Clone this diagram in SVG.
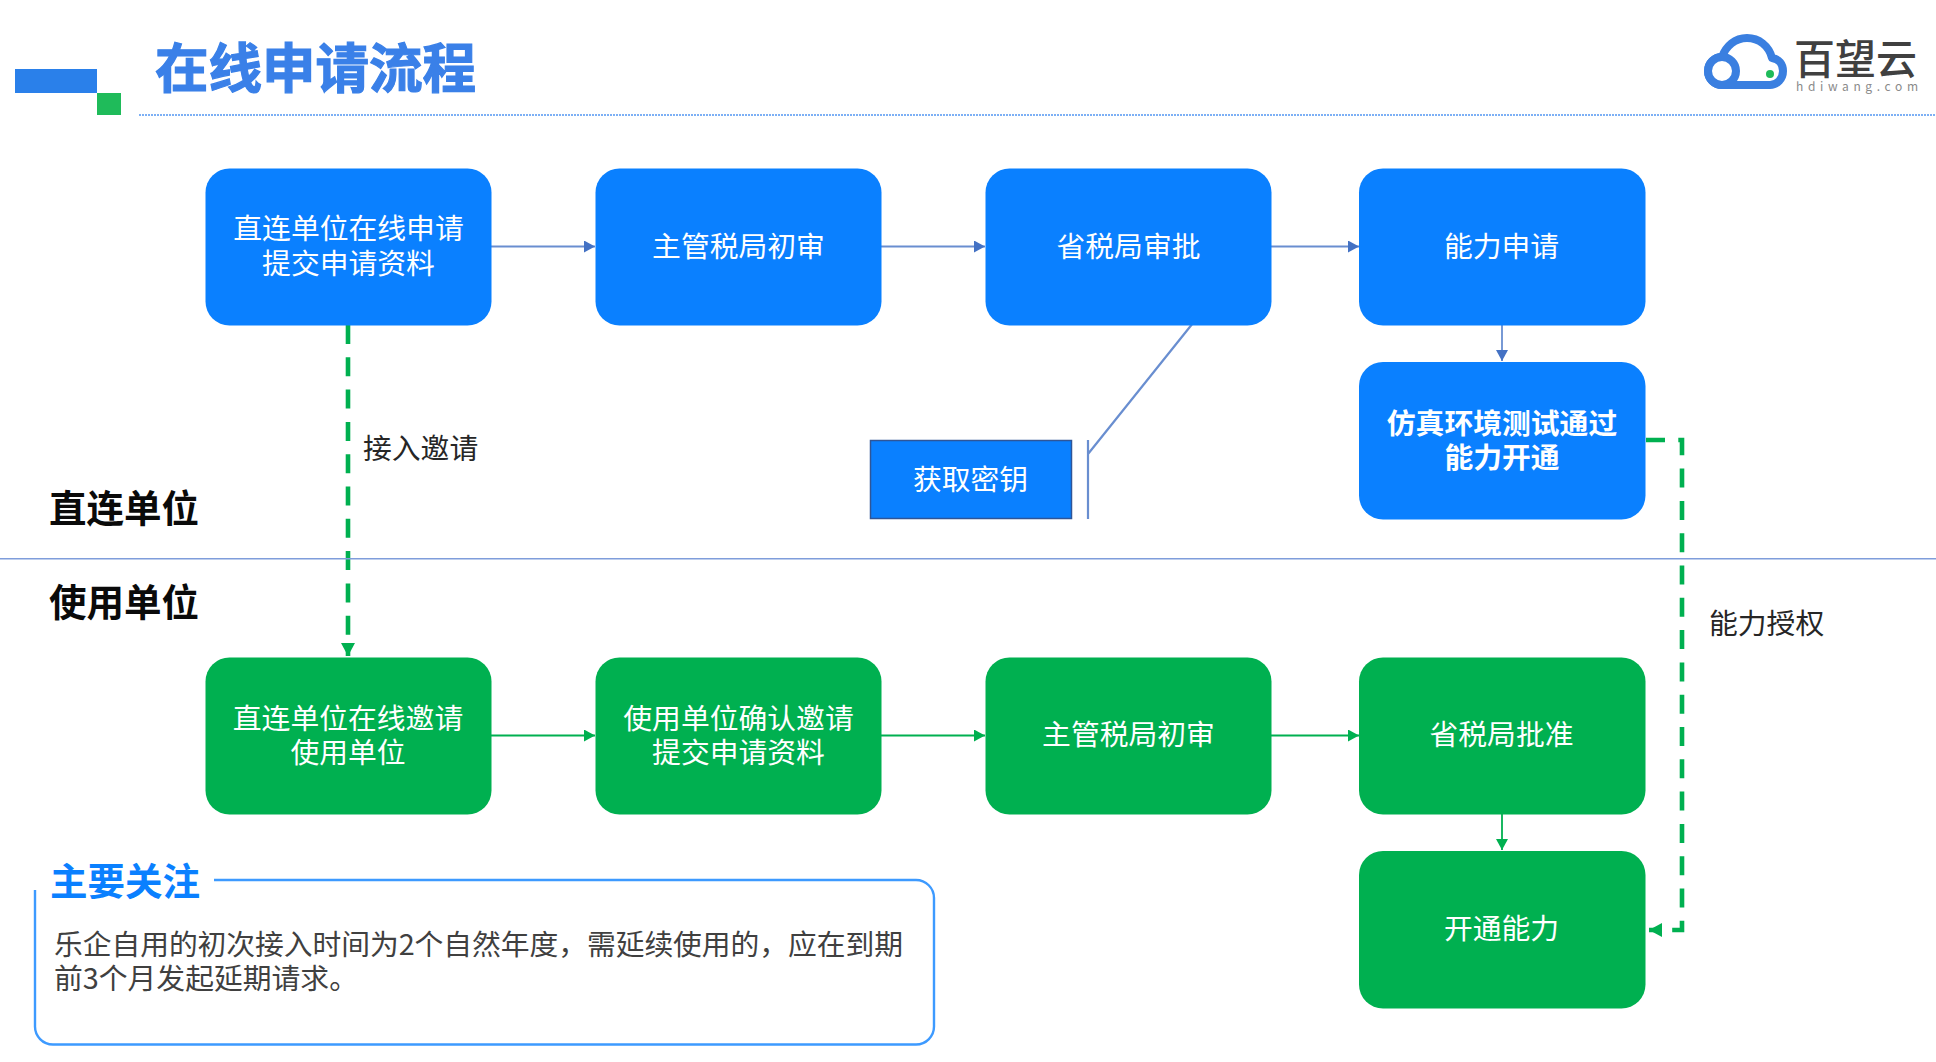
<svg xmlns="http://www.w3.org/2000/svg" width="1936" height="1062" viewBox="0 0 1936 1062">
<style>
text{font-family:"Noto Sans CJK SC","Microsoft YaHei",sans-serif;}
.b{fill:#0a80ff}.g{fill:#00b050}
.t{font-size:28.8px;fill:#fff;text-anchor:middle}
.tb{font-weight:700}
.lab{font-size:28.8px;fill:#262626}
.sec{font-size:37.500px;font-weight:700;fill:#0a0a0a}
.cb{fill:none;stroke:#4472c4;stroke-width:1.8;stroke-opacity:.8}
.cg{fill:none;stroke:#00b050;stroke-width:1.8}
.cd{fill:none;stroke:#00b050;stroke-width:4.600;stroke-dasharray:19 13.3}
</style>
<defs>
<marker id="ab" markerUnits="userSpaceOnUse" markerWidth="12" markerHeight="12" refX="11" refY="6" orient="auto"><path d="M0 0L11 6L0 12Z" fill="#4472c4"/></marker>
<marker id="ag" markerUnits="userSpaceOnUse" markerWidth="12" markerHeight="12" refX="11" refY="6" orient="auto"><path d="M0 0L11 6L0 12Z" fill="#00b050"/></marker>
<marker id="ad" markerUnits="userSpaceOnUse" markerWidth="14" markerHeight="14" refX="13" refY="7" orient="auto"><path d="M0 0L13 7L0 14Z" fill="#00b050"/></marker>
</defs>
<rect width="1936" height="1062" fill="#fff"/>
<g id="header">
<rect x="15" y="69" width="82" height="24" fill="#2a80ea"/>
<rect x="97" y="93" width="24" height="22" fill="#1fbb5a"/>
<text x="155" y="88" font-size="53.5" font-weight="700" fill="#3a80e8" stroke="#3a80e8" stroke-width="1.2">在线申请流程</text>
<path d="M139 115H1936" stroke="#7db0f5" stroke-width="2" stroke-dasharray="2 1" fill="none"/>
</g>
<g id="logo">
<path d="M1722 85A14 14 0 1 1 1722 57C1726 46 1735 38 1747 38C1759 38 1769 46 1772 58C1779 59 1783 64 1783 71C1783 79 1777 85 1770 85Z" fill="none" stroke="#3a7fe0" stroke-width="8" stroke-linejoin="round"/>
<circle cx="1722" cy="71" r="14" fill="#fff" stroke="#3a7fe0" stroke-width="8"/>
<circle cx="1770" cy="74" r="4" fill="#1fbb5a"/>
<text x="1794" y="74" font-size="41" font-weight="500" fill="#404040">百望云</text>
<text x="1796" y="91" font-size="12" fill="#8a8a8a" textLength="122" font-family="Liberation Sans, sans-serif">hdiwang.com</text>
</g>
<g id="connectors">
<path class="cb" d="M491 246.500H595" marker-end="url(#ab)"/>
<path class="cb" d="M881 246.500H985" marker-end="url(#ab)"/>
<path class="cb" d="M1271 246.500H1359" marker-end="url(#ab)"/>
<path class="cb" d="M1502 325V361" marker-end="url(#ab)"/>
<path class="cb" d="M1193 323L1088 454M1088 440V519" style="stroke-width:2.200"/>
<path class="cg" d="M491 735.500H595" marker-end="url(#ag)"/>
<path class="cg" d="M881 735.500H985" marker-end="url(#ag)"/>
<path class="cg" d="M1271 735.500H1359" marker-end="url(#ag)"/>
<path class="cg" d="M1502 814V850" marker-end="url(#ag)"/>
<path class="cd" d="M348 325V656" marker-end="url(#ad)"/>
<path class="cd" d="M1646 440H1682V930H1649" marker-end="url(#ad)"/>
</g>
<path id="divider" d="M0 558.700H1936" stroke="#7f9ddb" stroke-width="1.6" fill="none"/>
<g id="n1"><rect class="b" x="205.500" y="168.500" width="286" height="157" rx="24"/><text class="t" x="348.500" y="239">直连单位在线申请</text><text class="t" x="348.500" y="274">提交申请资料</text></g>
<g id="n2"><rect class="b" x="595.500" y="168.500" width="286" height="157" rx="24"/><text class="t" x="738.500" y="256.500">主管税局初审</text></g>
<g id="n3"><rect class="b" x="985.500" y="168.500" width="286" height="157" rx="24"/><text class="t" x="1128.500" y="256.500">省税局审批</text></g>
<g id="n4"><rect class="b" x="1359" y="168.500" width="286.500" height="157" rx="24"/><text class="t" x="1501.500" y="256.500">能力申请</text></g>
<g id="n5"><rect class="b" x="1359" y="362" width="286.500" height="157.500" rx="24"/><text class="t tb" x="1502" y="433.500">仿真环境测试通过</text><text class="t tb" x="1502" y="467.500">能力开通</text></g>
<g id="n6"><rect class="b" x="870.500" y="440.500" width="201" height="78" stroke="#2f5597" stroke-width="1.500"/><text class="t" x="970.500" y="489.500">获取密钥</text></g>
<g id="n7"><rect class="g" x="205.500" y="657.500" width="286" height="157" rx="24"/><text class="t" x="348" y="728.500">直连单位在线邀请</text><text class="t" x="348" y="762.500">使用单位</text></g>
<g id="n8"><rect class="g" x="595.500" y="657.500" width="286" height="157" rx="24"/><text class="t" x="738.500" y="728.500">使用单位确认邀请</text><text class="t" x="738.500" y="762.500">提交申请资料</text></g>
<g id="n9"><rect class="g" x="985.500" y="657.500" width="286" height="157" rx="24"/><text class="t" x="1128.500" y="744.500">主管税局初审</text></g>
<g id="n10"><rect class="g" x="1359" y="657.500" width="286.500" height="157" rx="24"/><text class="t" x="1501.500" y="744.500">省税局批准</text></g>
<g id="n11"><rect class="g" x="1359" y="851" width="286.500" height="157.500" rx="24"/><text class="t" x="1501.500" y="938.500">开通能力</text></g>
<g id="labels">
<text class="lab" x="363" y="458.500">接入邀请</text>
<text class="lab" x="1709" y="633.500">能力授权</text>
<text class="sec" x="49" y="522">直连单位</text>
<text class="sec" x="49" y="616">使用单位</text>
</g>
<g id="note">
<path d="M214 880H916A18 18 0 0 1 934 898V1026A18 18 0 0 1 916 1044.500H53A18 18 0 0 1 35 1026V890" fill="none" stroke="#3d9aff" stroke-width="2.400"/>
<text x="50" y="894.500" font-size="37.500" font-weight="700" fill="#0a80ff">主要关注</text>
<text class="lab" x="54" y="955" style="fill:#404040" textLength="849">乐企自用的初次接入时间为2个自然年度，需延续使用的，应在到期</text>
<text class="lab" x="54" y="989" style="fill:#404040">前3个月发起延期请求。</text>
</g>
</svg>
